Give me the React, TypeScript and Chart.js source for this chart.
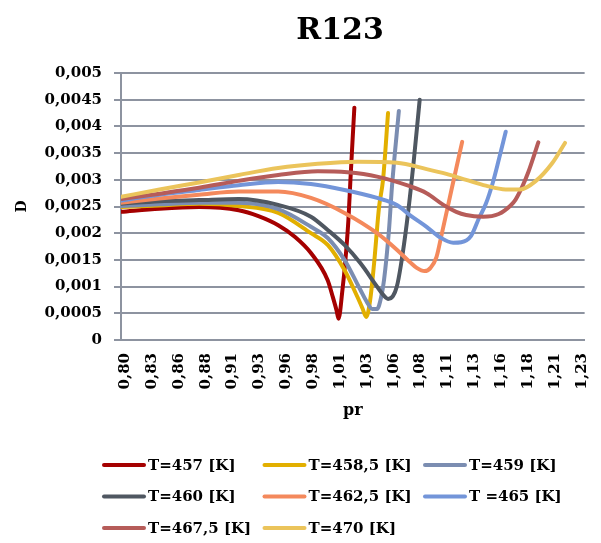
import React, { useEffect, useRef } from 'react';
import { Chart, registerables } from 'chart.js';

Chart.register(...registerables);

const FONT = '"DejaVu Serif", "Liberation Serif", serif';
const GRID_COLOR = '#8d93a0';

const chartTitle = 'R123';
const xAxisTitle = 'pr';
const yAxisTitle = 'D';

const seriesLabels = [
  'T=457 [K]',
  'T=458,5 [K]',
  'T=459 [K]',
  'T=460 [K]',
  'T=462,5 [K]',
  'T =465 [K]',
  'T=467,5 [K]',
  'T=470 [K]',
];

const seriesColors = [
  '#a50000',
  '#e2af00',
  '#7b8db1',
  '#4f5761',
  '#f4895c',
  '#7395d9',
  '#b65c59',
  '#ebc45b',
];

const xTickLabels = [
  '0,80', '0,83', '0,86', '0,88', '0,91', '0,93', '0,96', '0,98', '1,01',
  '1,03', '1,06', '1,08', '1,11', '1,13', '1,16', '1,18', '1,21', '1,23',
];
const xTickStart = 0.8;
const xTickStep = 0.0253;

const yTickValues = [0, 0.0005, 0.001, 0.0015, 0.002, 0.0025, 0.003, 0.0035, 0.004, 0.0045, 0.005];
const yTickLabels = ['0', '0,0005', '0,001', '0,0015', '0,002', '0,0025', '0,003', '0,0035', '0,004', '0,0045', '0,005'];

// T=457 K
const pr457 = [0.8, 0.8363, 0.8735, 0.9108, 0.9294, 0.948, 0.9639, 0.9788, 0.9946, 0.9992, 1.003, 1.0048, 1.0085, 1.0113, 1.0141, 1.016, 1.0179, 1.0197];
const d457 = [0.0024, 0.00246, 0.00249, 0.00243, 0.00232, 0.00215, 0.00193, 0.00163, 0.00112, 0.00082, 0.00055, 0.0004, 0.00094, 0.0015, 0.00225, 0.003, 0.0037, 0.00435];

// T=458,5 K
const pr4585 = [0.8, 0.8363, 0.8735, 0.9108, 0.948, 0.9788, 0.9946, 1.0104, 1.0225, 1.0272, 1.0309, 1.0346, 1.0383, 1.043, 1.0467, 1.0514];
const d4585 = [0.00249, 0.00252, 0.00255, 0.00251, 0.00238, 0.002, 0.00178, 0.00131, 0.00081, 0.0006, 0.00043, 0.00075, 0.00144, 0.0025, 0.003, 0.00425];

// T=459 K
const pr459 = [0.8, 0.8363, 0.8735, 0.9108, 0.948, 0.9788, 0.9946, 1.0104, 1.0253, 1.0318, 1.0365, 1.0411, 1.0449, 1.0476, 1.0523, 1.0551, 1.0616];
const d459 = [0.00251, 0.00254, 0.00257, 0.00257, 0.00245, 0.00212, 0.00191, 0.0015, 0.00094, 0.0007, 0.00058, 0.00058, 0.0008, 0.00112, 0.00206, 0.00287, 0.00429];

// T=460 K
const pr460 = [0.8, 0.8363, 0.8735, 0.9108, 0.948, 0.9788, 0.9946, 1.0104, 1.0253, 1.0411, 1.0467, 1.0514, 1.056, 1.0597, 1.0635, 1.0691, 1.0756, 1.0812];
const d460 = [0.00255, 0.0026, 0.00262, 0.00264, 0.00253, 0.00231, 0.00206, 0.00178, 0.00144, 0.001, 0.00085, 0.00077, 0.00082, 0.001, 0.0014, 0.00219, 0.00335, 0.0045];

// T=462,5 K
const pr4625 = [0.8, 0.8363, 0.8735, 0.9108, 0.948, 0.9788, 1.0104, 1.0411, 1.0597, 1.0719, 1.0784, 1.0858, 1.0914, 1.097, 1.1016, 1.111, 1.1212];
const d4625 = [0.00257, 0.00265, 0.00272, 0.00278, 0.00278, 0.00266, 0.00238, 0.002, 0.00169, 0.00146, 0.00135, 0.00129, 0.00135, 0.00155, 0.00195, 0.0028, 0.00371];

// T=465 K
const pr465 = [0.8, 0.8363, 0.8735, 0.9108, 0.948, 0.9788, 1.0104, 1.0411, 1.0597, 1.0719, 1.0877, 1.0998, 1.1128, 1.1203, 1.1296, 1.137, 1.1435, 1.1501, 1.1556, 1.1622];
const d465 = [0.00261, 0.00272, 0.00281, 0.0029, 0.00296, 0.00292, 0.00281, 0.00266, 0.00253, 0.00234, 0.00212, 0.00193, 0.00182, 0.00183, 0.00195, 0.00228, 0.00255, 0.00295, 0.00337, 0.0039];

// T=467,5 K
const pr4675 = [0.8, 0.8363, 0.8735, 0.9108, 0.948, 0.9853, 1.0132, 1.0411, 1.0719, 1.0877, 1.1035, 1.1156, 1.1249, 1.1407, 1.1556, 1.1668, 1.1715, 1.178, 1.1836, 1.1929];
const d4675 = [0.00264, 0.00274, 0.00285, 0.00298, 0.00309, 0.00316, 0.00314, 0.00306, 0.00288, 0.00275, 0.00253, 0.0024, 0.00234, 0.00231, 0.00236, 0.00252, 0.00263, 0.00288, 0.00315, 0.0037];

// T=470 K
const pr470 = [0.8, 0.8363, 0.8735, 0.9108, 0.948, 0.9853, 1.0225, 1.0597, 1.0877, 1.1063, 1.1249, 1.1435, 1.1622, 1.1761, 1.1901, 1.2059, 1.218];
const d470 = [0.00268, 0.00282, 0.00295, 0.00309, 0.00322, 0.0033, 0.00334, 0.00332, 0.0032, 0.00311, 0.003, 0.00289, 0.00282, 0.00282, 0.00297, 0.00331, 0.00369];

const seriesX = [pr457, pr4585, pr459, pr460, pr4625, pr465, pr4675, pr470];
const seriesY = [d457, d4585, d459, d460, d4625, d465, d4675, d470];

export default function App() {
  const canvasRef = useRef<HTMLCanvasElement | null>(null);

  useEffect(() => {
    const canvas = canvasRef.current;
    if (!canvas) return;
    const n = seriesLabels.length;
    const datasets = seriesLabels.map((label, i) => ({
      label,
      data: seriesX[i].map((x, j) => ({ x, y: seriesY[i][j] })),
      borderColor: seriesColors[i],
      backgroundColor: seriesColors[i],
      borderWidth: 4,
      pointRadius: 0,
      showLine: true,
      fill: false,
      cubicInterpolationMode: 'monotone' as const,
      borderCapStyle: 'round' as const,
      order: n - i,
    }));

    const overlay = {
      id: 'overlay',
      afterDraw(chart: any) {
        const ctx = chart.ctx as CanvasRenderingContext2D;
        ctx.save();
        ctx.fillStyle = '#000';
        ctx.textAlign = 'center';
        ctx.textBaseline = 'middle';
        ctx.font = `bold 30px ${FONT}`;
        ctx.fillText(chartTitle, 340, 31);
        ctx.font = `bold 15px ${FONT}`;
        ctx.textAlign = 'left';
        seriesLabels.forEach((label, i) => {
          const col = i % 3;
          const row = Math.floor(i / 3);
          const x0 = 104 + col * 160.5;
          const y = 465 + row * 31.5;
          ctx.strokeStyle = seriesColors[i];
          ctx.lineWidth = 4;
          ctx.lineCap = 'round';
          ctx.beginPath();
          ctx.moveTo(x0, y);
          ctx.lineTo(x0 + 40, y);
          ctx.stroke();
          ctx.fillStyle = '#000';
          ctx.fillText(label, x0 + 44, y + 1);
        });
        ctx.restore();
      },
    };

    const chart = new Chart(canvas, {
      type: 'scatter',
      data: { datasets },
      options: {
        responsive: false,
        animation: false,
        devicePixelRatio: 1,
        layout: { padding: { top: 73, right: 11, bottom: 123, left: 0 } },
        plugins: { legend: { display: false }, title: { display: false }, tooltip: { enabled: false } },
        scales: {
          x: {
            type: 'linear', min: 0.8, max: 1.2365,
            afterBuildTicks: (scale: any) => { scale.ticks = xTickLabels.map((_, i) => ({ value: xTickStart + i * xTickStep })); },
            afterFit: (scale: any) => { scale.height = 80; },
            grid: { display: false },
            border: { display: true, color: GRID_COLOR, width: 2 },
            ticks: { autoSkip: false, maxRotation: 90, minRotation: 90, padding: 5, labelOffset: 4, color: '#000', font: { family: FONT, size: 15, weight: 'bold' }, callback: (_v: any, i: number) => xTickLabels[i] },
            title: { display: true, text: xAxisTitle, color: '#000', font: { family: FONT, size: 16, weight: 'bold' }, padding: { top: 0, bottom: 0 } },
          },
          y: {
            type: 'linear', min: 0, max: 0.005,
            afterBuildTicks: (scale: any) => { scale.ticks = yTickValues.map((v) => ({ value: v })); },
            afterFit: (scale: any) => { scale.width = 121; },
            grid: { display: true, color: GRID_COLOR, lineWidth: 2, tickLength: 7, drawTicks: true },
            border: { display: true, color: GRID_COLOR, width: 2 },
            ticks: { padding: 12, color: '#000', font: { family: FONT, size: 15, weight: 'bold' }, callback: (_v: any, i: number) => yTickLabels[i] },
            title: { display: true, text: yAxisTitle, color: '#000', font: { family: FONT, size: 14, weight: 'bold' }, padding: { top: 14, bottom: 0 } },
          },
        },
      } as any,
      plugins: [overlay],
    });

    return () => chart.destroy();
  }, []);

  return (
    <div style={{ position: 'absolute', left: 0, top: 0, width: 601, height: 543, background: '#fff' }}>
      <canvas ref={canvasRef} width={601} height={543} style={{ display: 'block', width: 601, height: 543 }} />
    </div>
  );
}
